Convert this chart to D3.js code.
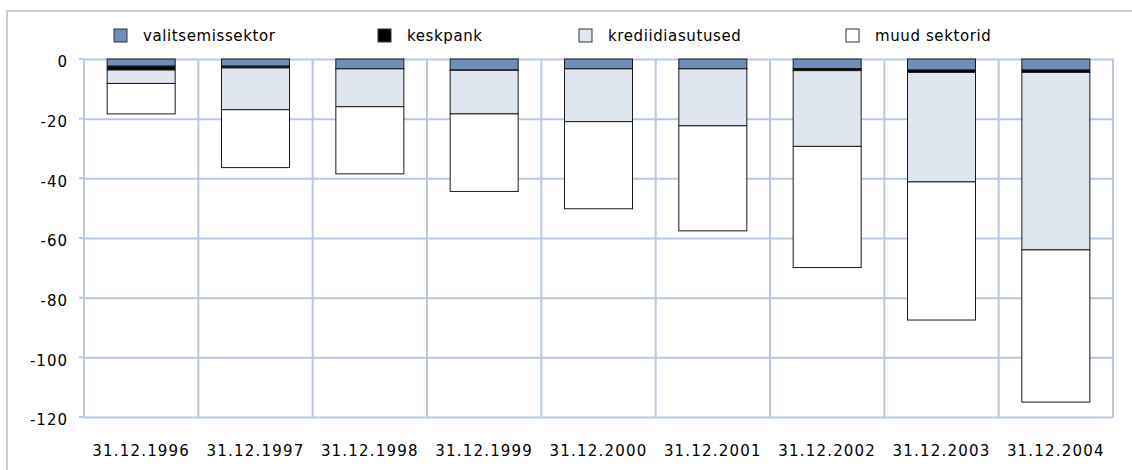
<!DOCTYPE html>
<html>
<head>
<meta charset="utf-8">
<script src="https://d3js.org/d3.v7.min.js"></script>
<style>
  body { margin: 0; background: #fff; }
  text { font-family: "DejaVu Sans", sans-serif; fill: #000; }
  .grid line { stroke: #b9c9df; stroke-width: 2; }
  .bar rect { stroke: #1a1a1a; stroke-width: 1; }
</style>
</head>
<body>
<div id="chart"></div>
<script>
const width = 1132;
const height = 470;

// data (negative values)
const dates = ["31.12.1996", "31.12.1997", "31.12.1998", "31.12.1999", "31.12.2000",
               "31.12.2001", "31.12.2002", "31.12.2003", "31.12.2004"];
const valitsemissektor = [-2.4, -2.4, -3.2, -3.7, -3.2, -3.2, -3.2, -3.7, -3.7];
const keskpank         = [-1.3, -0.6, -0.1, -0.1, -0.1, -0.1, -0.7, -0.8, -0.8];
const krediidiasutused = [-4.5, -14.0, -12.7, -14.6, -17.7, -19.1, -25.4, -36.7, -59.5];
const muudSektorid     = [-10.2, -19.4, -22.5, -26.0, -29.2, -35.2, -40.6, -46.3, -51.0];
const yTicks = [0, -20, -40, -60, -80, -100, -120];

const keys = ["valitsemissektor", "keskpank", "krediidiasutused", "muud sektorid"];
const colors = ["#6f8fba", "#000000", "#dfe6f0", "#ffffff"];

const rows = dates.map((d, i) => ({
  date: d,
  "valitsemissektor": valitsemissektor[i],
  "keskpank": keskpank[i],
  "krediidiasutused": krediidiasutused[i],
  "muud sektorid": muudSektorid[i]
}));

const margin = {left: 84, right: 19, top: 59, bottom: 53};

const svg = d3.select("#chart").append("svg")
    .attr("width", width)
    .attr("height", height);

// outer frame
svg.append("rect")
    .attr("x", 7).attr("y", 11)
    .attr("width", width).attr("height", height)
    .attr("fill", "none")
    .attr("stroke", "#c7cdda")
    .attr("stroke-width", 2);

const x = d3.scaleBand()
    .domain(dates)
    .range([margin.left, width - margin.right])
    .paddingInner(0)
    .paddingOuter(0);

const y = d3.scaleLinear()
    .domain([-120, 0])
    .range([height - margin.bottom, margin.top]);

// horizontal gridlines with tick stubs
svg.append("g")
    .attr("class", "grid")
    .attr("transform", `translate(${margin.left},0)`)
    .call(d3.axisLeft(y).tickValues(yTicks).tickSize(-(width - margin.left - margin.right)).tickFormat(""))
    .call(g => g.select(".domain").remove());

svg.append("g")
    .attr("class", "grid")
    .selectAll("line")
    .data(yTicks)
    .join("line")
    .attr("x1", margin.left - 5).attr("x2", margin.left)
    .attr("y1", d => y(d)).attr("y2", d => y(d));

// vertical gridlines at category boundaries
const bounds = dates.map(d => x(d)).concat([x(dates[dates.length - 1]) + x.bandwidth()]);
svg.append("g")
    .attr("class", "grid")
    .selectAll("line")
    .data(bounds)
    .join("line")
    .attr("x1", d => d).attr("x2", d => d)
    .attr("y1", y(0)).attr("y2", y(-120));

// y labels
svg.append("g")
    .selectAll("text")
    .data(yTicks)
    .join("text")
    .attr("x", 68)
    .attr("y", d => y(d) + 3)
    .attr("dy", "0.35em")
    .attr("text-anchor", "end")
    .style("font-size", "15px")
    .style("letter-spacing", "1px")
    .text(d => d);

// x labels
svg.append("g")
    .selectAll("text")
    .data(dates)
    .join("text")
    .attr("x", d => x(d) + x.bandwidth() / 2)
    .attr("y", 451)
    .attr("dy", "0.35em")
    .attr("text-anchor", "middle")
    .style("font-size", "15px")
    .style("letter-spacing", "1.2px")
    .text(d => d);

// stacked bars
const series = d3.stack().keys(keys).offset(d3.stackOffsetDiverging)(rows);
const barW = 68;

svg.append("g")
    .selectAll("g")
    .data(series)
    .join("g")
    .attr("class", "bar")
    .attr("fill", (d, i) => colors[i])
    .selectAll("rect")
    .data(d => d)
    .join("rect")
    .attr("x", d => x(d.data.date) + (x.bandwidth() - barW) / 2)
    .attr("width", barW)
    .attr("y", d => Math.min(y(d[0]), y(d[1])))
    .attr("height", d => Math.abs(y(d[0]) - y(d[1])));

// legend
const legendX = [114, 378, 579, 846];
const legend = svg.append("g")
    .selectAll("g")
    .data(keys)
    .join("g")
    .attr("transform", (d, i) => `translate(${legendX[i]},29)`);

legend.append("rect")
    .attr("width", 13).attr("height", 13)
    .attr("fill", (d, i) => colors[i])
    .attr("stroke", "#333")
    .attr("stroke-width", 1);

legend.append("text")
    .attr("x", 29)
    .attr("y", 7)
    .attr("dy", "0.35em")
    .style("font-size", "15px")
    .style("letter-spacing", "0.6px")
    .text(d => d);
</script>
</body>
</html>
